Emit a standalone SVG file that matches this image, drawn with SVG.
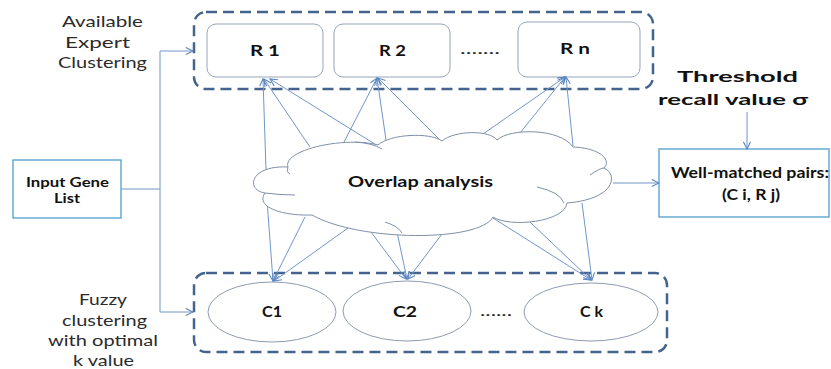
<svg xmlns="http://www.w3.org/2000/svg" width="831" height="369" viewBox="0 0 831 369">
<defs>
<style>
.lbl{font-family:Lato,"Liberation Sans",sans-serif;font-size:16px;fill:#2b2b2b;text-anchor:middle}
.b{font-family:Lato,"Liberation Sans",sans-serif;font-size:15px;font-weight:bold;fill:#111;text-anchor:middle}
.bs{font-family:Lato,"Liberation Sans",sans-serif;font-size:13.5px;font-weight:bold;fill:#111;text-anchor:middle}
.grp{fill:none;stroke:#44648e;stroke-width:2.5;stroke-dasharray:11 6}
.rbox{fill:#fff;stroke:#97a5ba;stroke-width:1}
.ell{fill:#fff;stroke:#8f9bb0;stroke-width:1}
.cl{fill:#fff;stroke:#7f8fa8;stroke-width:1}
.cli{fill:none;stroke:#7f8fa8;stroke-width:1}
.con{fill:none;stroke:#7196c9;stroke-width:1;marker-end:url(#ah)}
.plain{fill:none;stroke:#7196c9;stroke-width:1}
.sbox{fill:#fff;stroke:#4f9ecb;stroke-width:1.3}
</style>
<marker id="ah" viewBox="0 0 10 10" refX="9" refY="5" markerWidth="9" markerHeight="9" markerUnits="userSpaceOnUse" orient="auto">
<path d="M1,1 L9,5 L1,9" fill="none" stroke="#5a86c0" stroke-width="1.2"/>
</marker>
</defs>
<rect width="831" height="369" fill="#fff"/>

<g id="labels">
<text class="lbl" x="102.5" y="27" textLength="81" lengthAdjust="spacingAndGlyphs">Available</text>
<text class="lbl" x="97.5" y="48" textLength="65" lengthAdjust="spacingAndGlyphs">Expert</text>
<text class="lbl" x="102.5" y="68" textLength="89" lengthAdjust="spacingAndGlyphs">Clustering</text>
<text class="lbl" x="103" y="305" textLength="48" lengthAdjust="spacingAndGlyphs">Fuzzy</text>
<text class="lbl" x="104.5" y="326" textLength="85" lengthAdjust="spacingAndGlyphs">clustering</text>
<text class="lbl" x="103" y="346" textLength="110" lengthAdjust="spacingAndGlyphs">with optimal</text>
<text class="lbl" x="103.5" y="366" textLength="61" lengthAdjust="spacingAndGlyphs">k value</text>
<text class="b" x="737.5" y="82" textLength="121" lengthAdjust="spacingAndGlyphs">Threshold</text>
<text class="b" x="733" y="105" textLength="150" lengthAdjust="spacingAndGlyphs">recall value σ</text>
</g>

<g id="expert-group">
<rect class="grp" x="194" y="12" width="459" height="77" rx="12"/>
<text class="lbl" x="480" y="54" textLength="40" lengthAdjust="spacingAndGlyphs">.......</text>
</g>
<g id="R1"><rect class="rbox" x="207" y="24" width="116" height="53" rx="9"/><text class="b" x="265" y="56" textLength="30" lengthAdjust="spacingAndGlyphs">R 1</text></g>
<g id="R2"><rect class="rbox" x="334" y="24" width="116" height="53" rx="9"/><text class="b" x="392.5" y="56" textLength="27" lengthAdjust="spacingAndGlyphs">R 2</text></g>
<g id="Rn"><rect class="rbox" x="518" y="22" width="122" height="55" rx="9"/><text class="b" x="575" y="54" textLength="30" lengthAdjust="spacingAndGlyphs">R n</text></g>

<g id="fuzzy-group">
<rect class="grp" x="194" y="273" width="473" height="79" rx="12"/>
<text class="lbl" x="496" y="316" textLength="32" lengthAdjust="spacingAndGlyphs">......</text>
</g>
<g id="C1"><ellipse class="ell" cx="272" cy="312" rx="64" ry="30"/><text class="b" x="272" y="317" textLength="20" lengthAdjust="spacingAndGlyphs">C1</text></g>
<g id="C2"><ellipse class="ell" cx="407" cy="311" rx="64" ry="30"/><text class="b" x="405" y="317" textLength="24" lengthAdjust="spacingAndGlyphs">C2</text></g>
<g id="Ck"><ellipse class="ell" cx="591" cy="312" rx="67" ry="29"/><text class="b" x="591.5" y="317" textLength="23" lengthAdjust="spacingAndGlyphs">C k</text></g>

<g id="input">
<rect class="sbox" x="13" y="160" width="108" height="58"/>
<text class="bs" x="67.5" y="186.5" textLength="83" lengthAdjust="spacingAndGlyphs">Input Gene</text>
<text class="bs" x="67" y="203" textLength="26" lengthAdjust="spacingAndGlyphs">List</text>
</g>

<g id="result">
<rect class="sbox" x="659" y="149" width="170" height="68"/>
<text class="b" x="750" y="178" textLength="158" lengthAdjust="spacingAndGlyphs">Well-matched pairs:</text>
<text class="b" x="751" y="200" textLength="58" lengthAdjust="spacingAndGlyphs">(C i, R j)</text>
</g>

<g id="connectors">
<polyline class="plain" points="121,189 160,189"/>
<line class="plain" x1="160" y1="51" x2="160" y2="312"/>
<line class="con" x1="160" y1="51" x2="193" y2="51"/>
<line class="con" x1="160" y1="312" x2="193" y2="312"/>
<line class="con" x1="747" y1="112" x2="747" y2="149"/>
<line class="con" x1="613" y1="183" x2="659" y2="183"/>
<line class="con" x1="266" y1="170" x2="263" y2="79"/>
<line class="con" x1="310" y1="147" x2="264" y2="79"/>
<line class="con" x1="378" y1="146" x2="270" y2="79"/>
<line class="con" x1="343" y1="144" x2="377" y2="78"/>
<line class="con" x1="386" y1="140" x2="377" y2="78"/>
<line class="con" x1="440" y1="140" x2="378" y2="78"/>
<line class="con" x1="483" y1="134" x2="565" y2="77"/>
<line class="con" x1="520" y1="133" x2="565" y2="77"/>
<line class="con" x1="573" y1="146" x2="566" y2="77"/>
<line class="con" x1="267" y1="200" x2="273" y2="281"/>
<line class="con" x1="305" y1="217" x2="273" y2="281"/>
<line class="con" x1="348" y1="228" x2="274" y2="281"/>
<line class="con" x1="368" y1="228" x2="406" y2="279"/>
<line class="con" x1="397" y1="232" x2="407" y2="279"/>
<line class="con" x1="442" y1="234" x2="408" y2="279"/>
<line class="con" x1="493" y1="218" x2="591" y2="280"/>
<line class="con" x1="530" y1="222" x2="591" y2="280"/>
<line class="con" x1="582" y1="203" x2="592" y2="280"/>
</g>

<g id="overlap">
<path class="cl" d="M265,193 C245,190 250,165 288,167 C282,150 345,136 378,145 C390,134 430,132 442,141 C455,130 490,130 497,140 C510,128 560,128 573,147 C600,148 612,160 604,168 C618,174 616,199 567,203 C565,222 510,228 493,217 C480,242 360,242 312,215 C282,216 255,207 265,193 Z"/>
<path class="cli" d="M265,193 Q280,195 295,195"/>
<path class="cli" d="M355,142 Q372,143 382,149"/>
<path class="cli" d="M590,175 Q600,168 604,168"/>
<path class="cli" d="M537,187 Q560,192 564,203"/>
<path class="cli" d="M385,222 Q398,226 402,233"/>
<path class="cli" d="M288,167 Q286,172 290,174"/>
<text class="b" x="420.5" y="187" textLength="145" lengthAdjust="spacingAndGlyphs">Overlap analysis</text>
</g>
</svg>
